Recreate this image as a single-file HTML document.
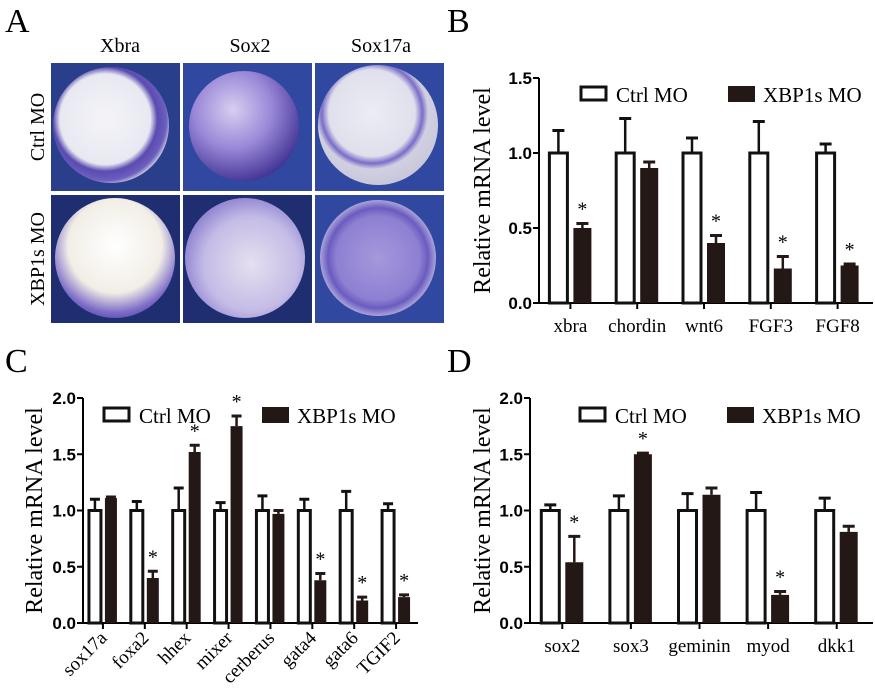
<!DOCTYPE html>
<html><head><meta charset="utf-8"><style>
body{margin:0;background:#fff;}
svg{display:block;}
.serif{font-family:"Liberation Serif",serif;}
.sans{font-family:"Liberation Sans",sans-serif;font-weight:bold;}
</style></head>
<body>
<svg id="fig" width="875" height="694" viewBox="0 0 875 694" xmlns="http://www.w3.org/2000/svg">
<defs>
<radialGradient id="egg1" cx="0.45" cy="0.45" r="0.6"><stop offset="0" stop-color="#f4f4f8"/><stop offset="0.65" stop-color="#e8e8f2"/><stop offset="0.75" stop-color="#5a4bb0"/><stop offset="0.88" stop-color="#6c5fc0"/><stop offset="0.95" stop-color="#c8c8dc"/><stop offset="1" stop-color="#b0b0cc"/></radialGradient>
<radialGradient id="egg2" cx="0.4" cy="0.35" r="0.7"><stop offset="0" stop-color="#d8cef0"/><stop offset="0.5" stop-color="#9a88d8"/><stop offset="1" stop-color="#3c2e90"/></radialGradient>
<radialGradient id="egg3" cx="0.45" cy="0.4" r="0.6"><stop offset="0" stop-color="#ececf4"/><stop offset="0.6" stop-color="#e0e0ec"/><stop offset="0.7" stop-color="#7a6cc8"/><stop offset="0.78" stop-color="#d0d0e2"/><stop offset="1" stop-color="#c8c8da"/></radialGradient>
<radialGradient id="egg4" cx="0.5" cy="0.4" r="0.65"><stop offset="0" stop-color="#ffffff"/><stop offset="0.6" stop-color="#f2eee6"/><stop offset="0.85" stop-color="#7e6ec8"/><stop offset="1" stop-color="#5040a8"/></radialGradient>
<radialGradient id="egg5" cx="0.55" cy="0.55" r="0.65"><stop offset="0" stop-color="#e4e0f0"/><stop offset="0.6" stop-color="#c4bce6"/><stop offset="1" stop-color="#7a6cc8"/></radialGradient>
<radialGradient id="egg6" cx="0.5" cy="0.5" r="0.6"><stop offset="0" stop-color="#a698dc"/><stop offset="0.6" stop-color="#8e80d2"/><stop offset="0.72" stop-color="#6a5cc0"/><stop offset="0.85" stop-color="#b4aede"/><stop offset="1" stop-color="#c4c0e0"/></radialGradient>
</defs>

<text class="serif" x="5" y="32" font-size="34">A</text>
<text class="serif" x="447" y="32" font-size="34">B</text>
<text class="serif" x="5" y="372" font-size="34">C</text>
<text class="serif" x="447" y="372" font-size="34">D</text>

<g>
<text class="serif" x="120" y="52" font-size="20" text-anchor="middle">Xbra</text>
<text class="serif" x="250" y="52" font-size="20" text-anchor="middle">Sox2</text>
<text class="serif" x="381" y="52" font-size="20" text-anchor="middle">Sox17a</text>
<text class="serif" transform="translate(44,127) rotate(-90)" font-size="20" text-anchor="middle">Ctrl MO</text>
<text class="serif" transform="translate(44,259) rotate(-90)" font-size="20" text-anchor="middle">XBP1s MO</text>

<rect x="51" y="63" width="129" height="128" fill="#2a3f8c"/>
<circle cx="111" cy="125" r="58" fill="url(#egg1)"/>
<rect x="183" y="63" width="129" height="128" fill="#3048a0"/>
<circle cx="244" cy="126" r="55" fill="url(#egg2)"/>
<rect x="315" y="63" width="129" height="128" fill="#3048a0"/>
<circle cx="378" cy="125" r="60" fill="url(#egg3)"/>
<rect x="51" y="195" width="129" height="128" fill="#1e2e70"/>
<circle cx="115" cy="258" r="60" fill="url(#egg4)"/>
<rect x="183" y="195" width="129" height="128" fill="#1e2e70"/>
<circle cx="245" cy="258" r="60" fill="url(#egg5)"/>
<rect x="315" y="195" width="129" height="128" fill="#3048a0"/>
<circle cx="378" cy="258" r="58" fill="url(#egg6)"/>
</g>
<g id="charts"></g>
</svg>
<script>
// Panel B data
const catsB = ["xbra","chordin","wnt6","FGF3","FGF8"];
const ctrlB = [1,1,1,1,1];
const ctrlErrB = [0.15,0.23,0.10,0.21,0.06];
const xbpB = [0.50,0.90,0.40,0.23,0.25];
const xbpErrB = [0.03,0.04,0.05,0.08,0.01];
const starB = [1,0,1,1,1];
const ticksB = ["0.0","0.5","1.0","1.5"];
// Panel C data
const catsC = ["sox17a","foxa2","hhex","mixer","cerberus","gata4","gata6","TGIF2"];
const ctrlC = [1,1,1,1,1,1,1,1];
const ctrlErrC = [0.10,0.08,0.20,0.07,0.13,0.10,0.17,0.06];
const xbpC = [1.11,0.40,1.52,1.75,0.97,0.38,0.20,0.23];
const xbpErrC = [0.01,0.06,0.06,0.09,0.03,0.06,0.03,0.02];
const starC = [0,1,1,1,0,1,1,1];
const ticksC = ["0.0","0.5","1.0","1.5","2.0"];
// Panel D data
const catsD = ["sox2","sox3","geminin","myod","dkk1"];
const ctrlD = [1,1,1,1,1];
const ctrlErrD = [0.05,0.13,0.15,0.16,0.11];
const xbpD = [0.54,1.50,1.14,0.25,0.81];
const xbpErrD = [0.23,0.01,0.06,0.03,0.05];
const starD = [1,1,0,1,0];
const ticksD = ["0.0","0.5","1.0","1.5","2.0"];

const NS = "http://www.w3.org/2000/svg";
const root = document.getElementById("charts");
function mk(tag, attrs, parent, text){
  const e = document.createElementNS(NS, tag);
  for (const k in attrs) e.setAttribute(k, attrs[k]);
  if (text !== undefined) e.textContent = text;
  (parent||root).appendChild(e);
  return e;
}
function chart(o){
  const g = mk("g", {});
  
  
  const ymax = parseFloat(o.ticks[o.ticks.length-1]);
  const Y = v => o.y0 - (v/ymax)*(o.y0-o.yTop);
  const n = o.cats.length;
  const step = (o.x1 - o.x0) / n;
  const X = i => o.x0 + step*(i+0.5) + o.shift;
  const ya = mk("line",{x1:o.x0,y1:o.yTop,x2:o.x0,y2:o.y0,stroke:"#000","stroke-width":2},g);
  
  
  const xa = mk("line",{x1:o.x0-1,y1:o.y0,x2:o.x1,y2:o.y0,stroke:"#000","stroke-width":2},g);
  
  
  o.ticks.forEach(t=>{
    const v = parseFloat(t), y = Y(v);
    mk("line",{x1:o.x0-6,y1:y,x2:o.x0,y2:y,stroke:"#000","stroke-width":2},g);
    const tl = mk("text",{x:o.x0-7,y:y+6,"font-size":17,"text-anchor":"end",class:"sans"},g,t);
    
    
  });
  const yt = mk("text",{transform:`translate(${o.ylx},${(o.y0+o.yTop)/2}) rotate(-90)`,"font-size":24,"text-anchor":"middle",class:"serif"},g,"Relative mRNA level");
  
  
  for (let i=0;i<n;i++){
    const cx = X(i);
    mk("line",{x1:cx,y1:o.y0,x2:cx,y2:o.y0+6,stroke:"#000","stroke-width":2},g);
    const wx = cx - o.gap/2 - o.bw, bx = cx + o.gap/2;
    const ctop = Y(o.ctrl[i]), ce = Y(o.ctrl[i]+o.ctrlErr[i]);
    mk("line",{x1:wx+o.bw/2,y1:ctop,x2:wx+o.bw/2,y2:ce,stroke:"#111","stroke-width":2.5},g);
    mk("line",{x1:wx+o.bw/2-o.cap/2,y1:ce,x2:wx+o.bw/2+o.cap/2,y2:ce,stroke:"#111","stroke-width":3},g);
    const r1 = mk("rect",{x:wx,y:ctop,width:o.bw,height:o.y0-ctop,fill:"#fff",stroke:"#111","stroke-width":3},g);
    
    
    const xtop = Y(o.xbp[i]), xe = Y(o.xbp[i]+o.xbpErr[i]);
    mk("line",{x1:bx+o.bw/2,y1:xtop,x2:bx+o.bw/2,y2:xe,stroke:"#231815","stroke-width":2.5},g);
    mk("line",{x1:bx+o.bw/2-o.cap/2,y1:xe,x2:bx+o.bw/2+o.cap/2,y2:xe,stroke:"#231815","stroke-width":3},g);
    const r2 = mk("rect",{x:bx,y:xtop,width:o.bw,height:o.y0-xtop,fill:"#231815"},g);
    
    
    if (o.star[i]){
      const s = mk("text",{x:bx+o.bw/2,y:xe-8,"font-size":20,"text-anchor":"middle",class:"serif"},g,"*");
      
      
    }
    let lab;
    if (o.rot){
      lab = mk("text",{transform:`translate(${cx+5},${o.y0+16}) rotate(-45)`,"font-size":19,"text-anchor":"end",class:"serif"},g,o.cats[i]);
    } else {
      lab = mk("text",{x:cx,y:o.y0+29,"font-size":19,"text-anchor":"middle",class:"serif"},g,o.cats[i]);
    }
    
    
  }
  const lg = mk("g",{},g);
  
  
  const l1 = mk("rect",{x:o.lx1,y:o.ly,width:25,height:13,fill:"#fff",stroke:"#111","stroke-width":3},lg);
  
  
  const t1 = mk("text",{x:o.lx1+35,y:o.ly+15,"font-size":21,class:"serif"},lg,"Ctrl MO");
  
  
  const l2 = mk("rect",{x:o.lx2,y:o.ly-1,width:27,height:16,fill:"#231815"},lg);
  
  
  const t2 = mk("text",{x:o.lx2+35,y:o.ly+15,"font-size":21,class:"serif"},lg,"XBP1s MO");
  
  
}
chart({name:"chart-b",cats:catsB,ctrl:ctrlB,ctrlErr:ctrlErrB,xbp:xbpB,xbpErr:xbpErrB,star:starB,ticks:ticksB,
  x0:539,x1:873,y0:303,yTop:78,shift:-2,bw:18,gap:6,cap:12,ylx:490,rot:false,lx1:581,lx2:728,ly:87});
chart({name:"chart-c",cats:catsC,ctrl:ctrlC,ctrlErr:ctrlErrC,xbp:xbpC,xbpErr:xbpErrC,star:starC,ticks:ticksC,
  x0:83,x1:418,y0:623,yTop:398,shift:-1,bw:12,gap:4,cap:10,ylx:42,rot:true,lx1:104,lx2:262,ly:408});
chart({name:"chart-d",cats:catsD,ctrl:ctrlD,ctrlErr:ctrlErrD,xbp:xbpD,xbpErr:xbpErrD,star:starD,ticks:ticksD,
  x0:530,x1:873,y0:623,yTop:398,shift:-2,bw:18,gap:6,cap:12,ylx:490,rot:false,lx1:580,lx2:727,ly:408});
</script>
</body></html>
